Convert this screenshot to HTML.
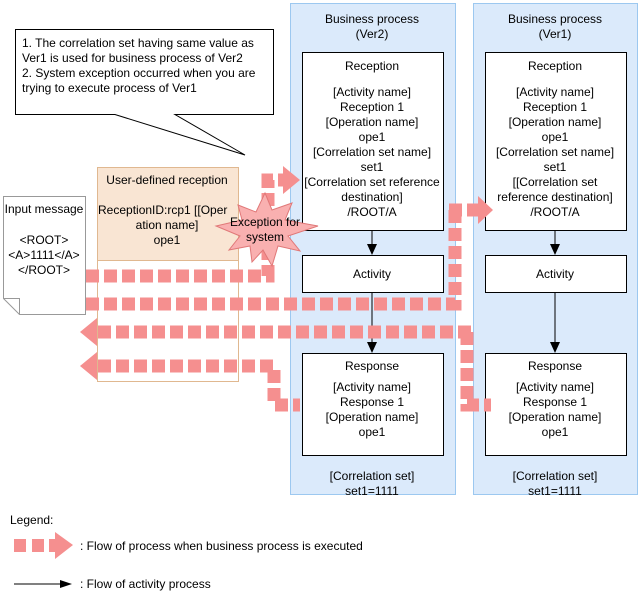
<!DOCTYPE html>
<html><head><style>
body{margin:0;background:#fff;}
svg text{font-family:"Liberation Sans",Arial,sans-serif;font-size:12px;fill:#000;}
</style></head><body>
<svg width="641" height="595" xmlns="http://www.w3.org/2000/svg">
<rect x="290.5" y="3.5" width="165" height="491" fill="#dbeafb" stroke="#9cc8f0"/>
<rect x="473.5" y="3.5" width="164" height="491" fill="#dbeafb" stroke="#9cc8f0"/>
<g text-anchor="middle">
<text x="372" y="23">Business process</text><text x="372" y="38">(Ver2)</text>
<text x="555" y="23">Business process</text><text x="555" y="38">(Ver1)</text>
</g>
<g fill="#fff" stroke="#000">
<rect x="302.5" y="52.5" width="141" height="178"/>
<rect x="302.5" y="255.5" width="141" height="37"/>
<rect x="302.5" y="353.5" width="141" height="102"/>
<rect x="485.5" y="52.5" width="141" height="178"/>
<rect x="485.5" y="255.5" width="141" height="37"/>
<rect x="485.5" y="353.5" width="141" height="102"/>
</g>
<g text-anchor="middle">
<text x="372" y="70">Reception</text>
<text x="372" y="96">[Activity name]</text><text x="372" y="111">Reception 1</text>
<text x="372" y="126">[Operation name]</text><text x="372" y="141">ope1</text>
<text x="372" y="156">[Correlation set name]</text><text x="372" y="171">set1</text>
<text x="372" y="186">[Correlation set reference</text><text x="372" y="201">destination]</text><text x="372" y="216">/ROOT/A</text>
<text x="372" y="278">Activity</text>
<text x="372" y="370">Response</text>
<text x="372" y="391">[Activity name]</text><text x="372" y="406">Response 1</text>
<text x="372" y="421">[Operation name]</text><text x="372" y="436">ope1</text>
<text x="372" y="480">[Correlation set]</text><text x="372" y="495">set1=1111</text>
<text x="555" y="70">Reception</text>
<text x="555" y="96">[Activity name]</text><text x="555" y="111">Reception 1</text>
<text x="555" y="126">[Operation name]</text><text x="555" y="141">ope1</text>
<text x="555" y="156">[Correlation set name]</text><text x="555" y="171">set1</text>
<text x="555" y="186">[[Correlation set</text><text x="555" y="201">reference destination]</text><text x="555" y="216">/ROOT/A</text>
<text x="555" y="278">Activity</text>
<text x="555" y="370">Response</text>
<text x="555" y="391">[Activity name]</text><text x="555" y="406">Response 1</text>
<text x="555" y="421">[Operation name]</text><text x="555" y="436">ope1</text>
<text x="555" y="480">[Correlation set]</text><text x="555" y="495">set1=1111</text>
</g>
<g stroke="#000">
<line x1="372" y1="231" x2="372" y2="246"/><line x1="372" y1="293" x2="372" y2="344"/>
<line x1="555" y1="231" x2="555" y2="246"/><line x1="555" y1="293" x2="555" y2="344"/>
</g>
<g fill="#000">
<polygon points="367,244 377,244 372,255"/><polygon points="367,342 377,342 372,353"/>
<polygon points="550,244 560,244 555,255"/><polygon points="550,342 560,342 555,353"/>
</g>
<polygon points="15.5,29.5 273.5,29.5 273.5,114.5 175,114.5 245,155 115,114.5 15.5,114.5" fill="#fff" stroke="#000"/>
<text x="22" y="47">1. The correlation set having same value as</text>
<text x="22" y="62">Ver1 is used for business process of Ver2</text>
<text x="22" y="77">2. System exception occurred when you are</text>
<text x="22" y="92">trying to execute process of Ver1</text>
<rect x="97.5" y="167.5" width="141" height="214" fill="#fff" stroke="#e0b890"/>
<rect x="97.5" y="167.5" width="141" height="93" fill="#f9e5d3" stroke="#e0b890"/>
<text x="167" y="184" text-anchor="middle">User-defined reception</text>
<text x="98" y="214">ReceptionID:rcp1  [[Oper</text>
<text x="167" y="229" text-anchor="middle">ation name]</text>
<text x="167" y="244" text-anchor="middle">ope1</text>
<polygon points="3.5,196.5 85.5,196.5 85.5,314.5 19.5,314.5 3.5,298.5" fill="#fff" stroke="#999"/>
<polyline points="3.5,298.5 19.5,298.5 19.5,314.5" fill="none" stroke="#999"/>
<g text-anchor="middle">
<text x="44" y="213">Input message</text>
<text x="44" y="244">&lt;ROOT&gt;</text><text x="44" y="259">&lt;A&gt;1111&lt;/A&gt;</text><text x="44" y="274">&lt;/ROOT&gt;</text>
</g>
<g fill="none" stroke="#f58f8f" stroke-width="13" stroke-dasharray="13 5">
<polyline points="86,276 268,276 268,180 284,180"/>
<polyline points="449,210 478,210"/>
<polyline points="455,210 455,304 86,304"/>
<polyline points="98,332 473,332"/>
<polyline points="467,332 467,405 491,405"/>
<polyline points="98,366 274,366 274,405 300,405"/>
</g>
<g fill="#f58f8f">
<polygon points="283,166 300,180 283,194"/>
<polygon points="478,196 493,210 478,224"/>
<polygon points="97,318 80,332 97,346"/>
<polygon points="97,352 80,366 97,380"/>
</g>
<polygon points="265,193 272,210 292,203 285,220 318,226 288,236 300,251 278,246 272,266 263,250 252,262 250,246 229,250 240,236 216,226 242,220 238,205 256,212" fill="#f9b0b0" stroke="#e07878"/>
<text x="265" y="226" text-anchor="middle">Exception for</text>
<text x="265" y="241" text-anchor="middle">system</text>
<text x="10" y="524">Legend:</text>
<g fill="#f58f8f"><rect x="14" y="539" width="12" height="13"/><rect x="32" y="539" width="12" height="13"/><rect x="49" y="539" width="10" height="13"/><polygon points="55,532 73,545 55,559"/></g>
<text x="80" y="550">: Flow of process when business process is executed</text>
<line x1="14" y1="584" x2="62" y2="584" stroke="#000"/>
<polygon points="60,580 72,584 60,588" fill="#000"/>
<text x="80" y="588">: Flow of activity process</text>
</svg>
</body></html>
